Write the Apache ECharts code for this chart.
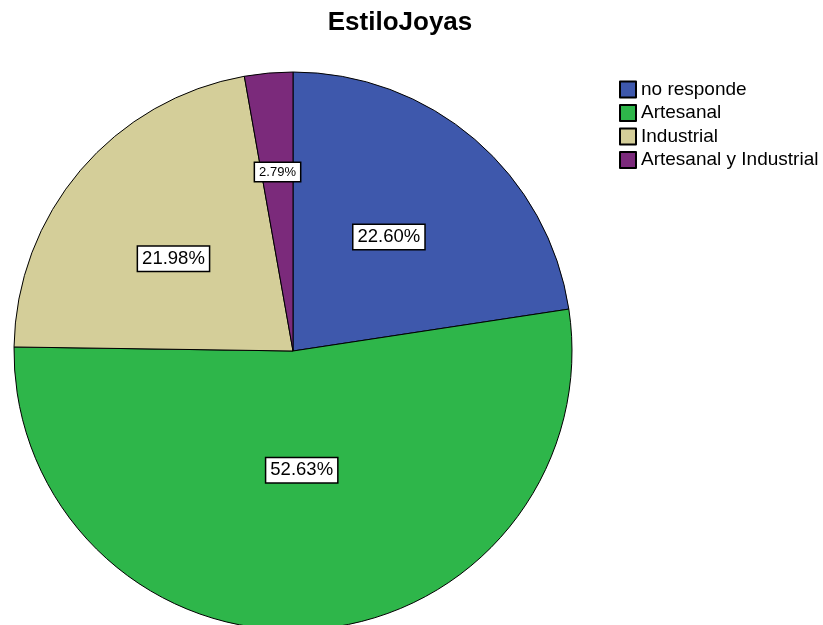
<!DOCTYPE html>
<html>
<head>
<meta charset="utf-8">
<script src="https://cdn.jsdelivr.net/npm/echarts@6/dist/echarts.min.js"></script>
<style>
html,body{margin:0;padding:0;background:#fff;}
#chart{width:823px;height:625px;}
</style>
</head>
<body>
<div id="chart"></div>
<script>
const categories = ["no responde", "Artesanal", "Industrial", "Artesanal y Industrial"];
const values = [22.60, 52.63, 21.98, 2.79];
const colors = ["#3e58ac", "#2eb64a", "#d4ce99", "#7b2a7b"];
const labelShift = [[3, -6], [-1, -23], [-11, 0], [-3, -37]];

const chart = echarts.init(document.getElementById('chart'));
chart.setOption({
  animation: false,
  backgroundColor: '#ffffff',
  title: {
    text: 'EstiloJoyas',
    left: 395,
    textAlign: 'center',
    top: 5,
    textStyle: {fontFamily: 'Liberation Sans, Arial', fontWeight: 'bold', fontSize: 26, color: '#000'}
  },
  legend: {
    orient: 'vertical',
    left: 614,
    top: 75,
    icon: 'rect',
    itemWidth: 16,
    itemHeight: 16,
    itemGap: 4.5,
    textStyle: {fontFamily: 'Liberation Sans, Arial', fontSize: 19, lineHeight: 19, color: '#000'},
    data: categories
  },
  series: [{
    type: 'pie',
    center: [293, 351],
    radius: 279,
    startAngle: 90,
    clockwise: true,
    avoidLabelOverlap: false,
    itemStyle: {borderColor: '#000', borderWidth: 1},
    emphasis: {disabled: true},
    label: {
      show: true,
      position: 'inside',
      formatter: p => p.value.toFixed(2) + '%',
      fontFamily: 'Liberation Sans, Arial',
      fontSize: 18.5,
      color: '#000',
      backgroundColor: '#fff',
      borderColor: '#000',
      borderWidth: 1.5,
      padding: [3, 4, 2, 4]
    },
    labelLayout: function (p) {
      const s = labelShift[p.dataIndex];
      return {dx: s[0], dy: s[1]};
    },
    data: categories.map((c, i) => ({
      name: c,
      value: values[i],
      itemStyle: {color: colors[i]},
      label: i === 3 ? {fontSize: 13, padding: [3, 4, 2, 4]} : undefined
    }))
  }]
});
</script>
</body>
</html>
